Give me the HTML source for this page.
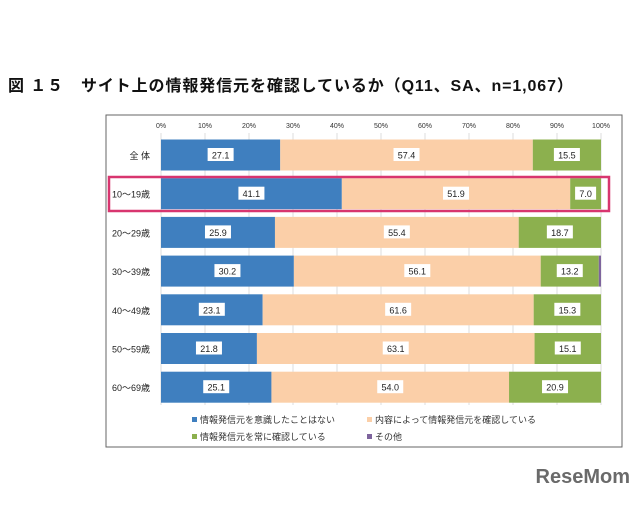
<!DOCTYPE html>
<html><head><meta charset="utf-8">
<style>
body{margin:0;width:640px;height:500px;background:#fff;overflow:hidden;font-family:"Liberation Sans","Noto Sans CJK JP",sans-serif;}
</style></head><body>
<svg width="640" height="500" xmlns="http://www.w3.org/2000/svg">
<text x="8" y="91" font-size="16" letter-spacing="0.9" font-weight="bold" fill="#111" font-family="Liberation Sans, Noto Sans CJK JP, sans-serif">図 １５　サイト上の情報発信元を確認しているか（Q11、SA、n=1,067）</text>
<rect x="106" y="115" width="516" height="332" fill="#fff" stroke="#666" stroke-width="1"/>
<g id="grid"></g>
<g id="bars"></g>
<rect x="109" y="177" width="500" height="34" fill="none" stroke="#d8356f" stroke-width="2.5"/>
<g font-size="9" fill="#333">
<rect x="192" y="417" width="5" height="5" fill="#3f7fbf"/><text x="200" y="423">情報発信元を意識したことはない</text>
<rect x="367" y="417" width="5" height="5" fill="#fbcfa8"/><text x="375" y="423">内容によって情報発信元を確認している</text>
<rect x="192" y="434" width="5" height="5" fill="#8cb04e"/><text x="200" y="440">情報発信元を常に確認している</text>
<rect x="367" y="434" width="5" height="5" fill="#7e649d"/><text x="375" y="440">その他</text>
</g>
<text x="630" y="483" text-anchor="end" font-size="20" font-weight="bold" fill="#6a6a6a">ReseMom</text>
</svg>
<script>
const categories=["全 体","10～19歳","20～29歳","30～39歳","40～49歳","50～59歳","60～69歳"];
const seriesNever=[27.1,41.1,25.9,30.2,23.1,21.8,25.1];
const seriesSometimes=[57.4,51.9,55.4,56.1,61.6,63.1,54.0];
const seriesAlways=[15.5,7.0,18.7,13.2,15.3,15.1,20.9];
const seriesOther=[0,0,0,0.5,0,0,0];
const ticks=[0,10,20,30,40,50,60,70,80,90,100];
const colors=["#3f7fbf","#fbcfa8","#8cb04e","#7e649d"];
const names=["never","sometimes","always","other"];
const NS="http://www.w3.org/2000/svg";
const x=v=>161+v*4.4;
const y=i=>155+i*38.7;
const bh=31;
function mk(t,a,p){const e=document.createElementNS(NS,t);for(const k in a)e.setAttribute(k,a[k]);p.appendChild(e);return e;}
const grid=document.getElementById('grid'),bars=document.getElementById('bars');
ticks.forEach(t=>{
 const l=mk('line',{x1:x(t),x2:x(t),y1:133,y2:405,stroke:'#ddd','stroke-width':1},grid);
 
 
 const tx=mk('text',{x:x(t),y:128,'text-anchor':'middle','font-size':7,fill:'#333'},grid);
 tx.textContent=t+'%';
 
 
});
const series=[seriesNever,seriesSometimes,seriesAlways,seriesOther];
categories.forEach((c,i)=>{
 const lb=mk('text',{x:150,y:y(i)+4,'text-anchor':'end','font-size':9,fill:'#222'},bars);
 lb.textContent=c;
 
 
 let acc=0;
 series.forEach((s,k)=>{
  const v=s[i];if(v<=0)return;
  const r=mk('rect',{x:x(acc),y:y(i)-bh/2,width:v*4.4,height:bh,fill:colors[k]},bars);
  
  
  if(k<3){
   const cx=x(acc+v/2);
   const w=v.toFixed(1).length*5+6;
   mk('rect',{x:cx-w/2,y:y(i)-7,width:w,height:13,fill:'#fff'},bars);
   const t=mk('text',{x:cx,y:y(i)+3.5,'text-anchor':'middle','font-size':9,fill:'#222'},bars);
   t.textContent=v.toFixed(1);
   
   
  }
  acc+=v;
 });
});
</script>
</body></html>
